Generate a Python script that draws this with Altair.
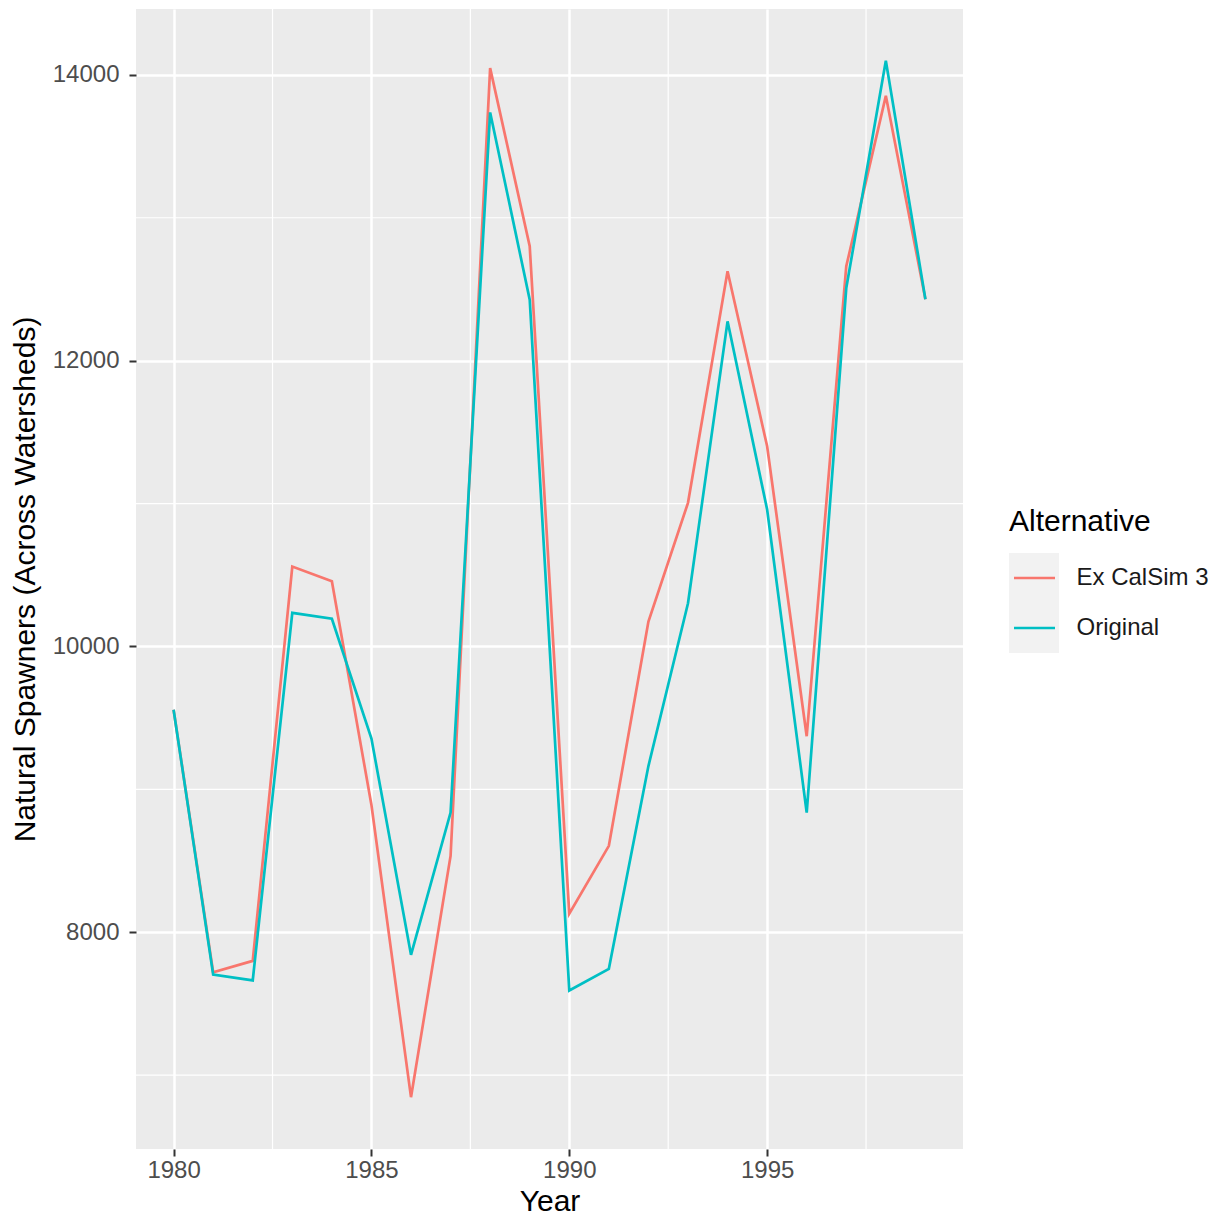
import pandas as pd
import altair as alt

# data
years = list(range(1980, 2000))
ex_calsim3 = [9557, 7720, 7800, 10559, 10456, 8890, 6846, 8534, 14047, 12800,
              8130, 8605, 10174, 11005, 12625, 11401, 9372, 12660, 13853, 12430]
original = [9557, 7704, 7663, 10235, 10194, 9355, 7842, 8838, 13737, 12427,
            7593, 7744, 9163, 10302, 12275, 10958, 8837, 12508, 14098, 12430]
alternatives = ["Ex CalSim 3", "Original"]
colors = ["#F8766D", "#00BFC4"]

x_ticks = [1980, 1985, 1990, 1995]
x_minor = [1982.5, 1987.5, 1992.5, 1997.5]
y_ticks = [8000, 10000, 12000, 14000]
y_minor = [7000, 9000, 11000, 13000]

df = pd.DataFrame({
    "Year": years * 2,
    "Spawners": ex_calsim3 + original,
    "Alternative": [alternatives[0]] * len(years) + [alternatives[1]] * len(years),
})

# ggplot style 5% expansion
def expand(lo, hi, f=0.05):
    r = hi - lo
    return [lo - f * r, hi + f * r]

x_dom = expand(min(years), max(years))
y_dom = expand(df["Spawners"].min(), df["Spawners"].max())

FONT = "Liberation Sans"
color_scale = alt.Scale(domain=alternatives, range=colors)

x_enc = alt.X(
    "Year:Q",
    scale=alt.Scale(domain=x_dom, nice=False, zero=False),
    axis=alt.Axis(values=x_ticks, format="d", title="Year", labelPadding=2,
                  titlePadding=4),
)
y_enc = alt.Y(
    "Spawners:Q",
    scale=alt.Scale(domain=y_dom, nice=False, zero=False),
    axis=alt.Axis(values=y_ticks, format="d",
                  title="Natural Spawners (Across Watersheds)",
                  labelPadding=10, titlePadding=12),
)

minor_v = (
    alt.Chart(pd.DataFrame({"Year": x_minor}))
    .mark_rule(color="white", strokeWidth=1.2)
    .encode(x=alt.X("Year:Q", scale=alt.Scale(domain=x_dom, nice=False, zero=False)))
)
minor_h = (
    alt.Chart(pd.DataFrame({"Spawners": y_minor}))
    .mark_rule(color="white", strokeWidth=1.2)
    .encode(y=alt.Y("Spawners:Q", scale=alt.Scale(domain=y_dom, nice=False, zero=False)))
)

lines = (
    alt.Chart(df)
    .mark_line(strokeWidth=2.7)
    .encode(
        x=x_enc,
        y=y_enc,
        color=alt.Color("Alternative:N", scale=color_scale, legend=None),
    )
)

plot = (minor_v + minor_h + lines).properties(
    width=827, height=1140,
    view=alt.ViewBackground(fill="#EBEBEB", stroke=None),
)

# hand-made ggplot-like legend
leg_df = pd.DataFrame({"Alternative": alternatives})
leg_y = alt.Y(
    "Alternative:N",
    scale=alt.Scale(domain=alternatives, paddingInner=0, paddingOuter=0.48, align=1),
    axis=alt.Axis(orient="right", ticks=False, domain=False, grid=False, title=None,
                  labelPadding=17, labelFontSize=24, labelColor="#1A1A1A"),
)
leg_bg = alt.Chart(leg_df).mark_rect(color="#F2F2F2").encode(
    y=leg_y, x=alt.value(0), x2=alt.value(50)
)
leg_keys = alt.Chart(leg_df).mark_rule(strokeWidth=2.7).encode(
    y=leg_y, x=alt.value(5), x2=alt.value(46),
    color=alt.Color("Alternative:N", scale=color_scale, legend=None),
)
legend = (leg_bg + leg_keys).properties(
    width=50, height=148,
    view=alt.ViewBackground(fill=None, stroke=None),
    title=alt.TitleParams("Alternative", anchor="start", fontSize=30, font=FONT,
                          fontWeight="normal", frame="group", baseline="alphabetic",
                          offset=-29, dy=27, color="black"),
)

chart = (
    alt.hconcat(plot, legend, spacing=46, bounds="flush", center=True)
    .properties(padding={"left": 2, "top": 0, "right": 5, "bottom": 0})
    .configure_view(stroke=None)
    .configure_axis(
        labelFont=FONT, titleFont=FONT,
        labelFontSize=24, labelColor="#4D4D4D",
        titleFontSize=30, titleFontWeight="normal", titleColor="black",
        tickColor="#333333", tickSize=7, tickWidth=2,
        domain=False, gridColor="white", gridWidth=2.5,
    )
)

chart.save("out.html", embed_options={"renderer": "svg", "actions": False})
